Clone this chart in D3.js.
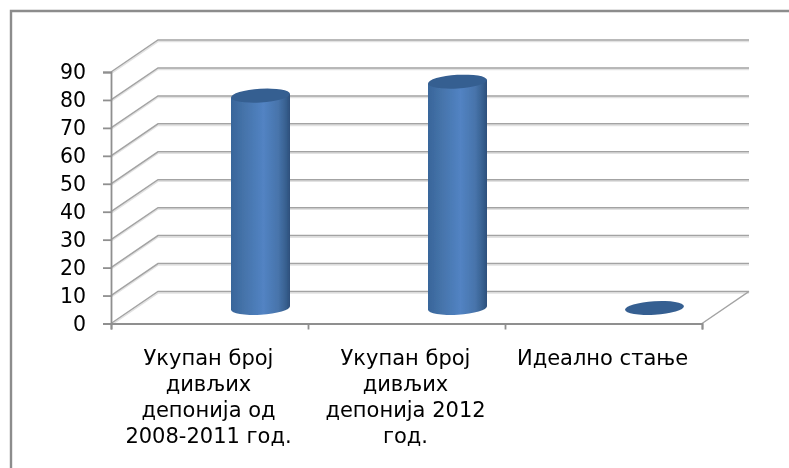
<!DOCTYPE html>
<html>
<head>
<meta charset="utf-8">
<style>
  html, body { margin: 0; padding: 0; background: #fff; }
  svg { display: block; }
  text { font-family: "DejaVu Sans", sans-serif; fill: #000; }
</style>
<script src="https://cdn.jsdelivr.net/npm/d3@7"></script>
</head>
<body>
<svg class="js-chart" width="789" height="468"></svg>
<script>
"use strict";

//data

const categories = ["cat1", "cat2", "cat3"];
const categoryLines = [
  ["Укупан број", "дивљих", "депонија од", "2008-2011 год."],
  ["Укупан број", "дивљих", "депонија 2012", "год."],
  ["Идеално стање"]
];
const values = [76, 81, 0];
const yTicks = [0, 10, 20, 30, 40, 50, 60, 70, 80, 90];

//layout

const depth = { x: 47, y: -32 };
const barShift = { x: 51, y: -15.5 };
const rx = 29.5;
const ry = 6.8;
const tilt = -3.5;
const lift = rx * Math.sin(-tilt * Math.PI / 180);

//scales

const x = d3.scaleBand().domain(categories).range([111, 702]);
const y = d3.scaleLinear().domain([0, 90]).range([323.5, 72]);

//render chart

const svg = d3.select(".js-chart");

const defs = svg.append("defs");

defs.append("filter")
  .attr("id", "soft")
  .attr("x", "-5%").attr("y", "-5%").attr("width", "110%").attr("height", "110%")
  .append("feGaussianBlur")
  .attr("stdDeviation", 0.45);

const grad = defs.append("linearGradient").attr("id", "barFill");

[
  [0, "#38659a"],
  [0.2, "#4472a8"],
  [0.55, "#5283c3"],
  [0.8, "#4874ab"],
  [0.93, "#37608f"],
  [1, "#2c4f7b"]
].forEach(([offset, color]) => {
  grad.append("stop").attr("offset", offset).attr("stop-color", color);
});

const frame = svg.append("g").attr("fill", "none").attr("stroke", "#8c8c8c").attr("stroke-width", 2.4);

frame.append("path").attr("d", "M789,11H11V468");

const chart = svg.append("g").attr("filter", "url(#soft)");

//grid

const addGrid = (offset, color, width) => {

  chart.append("g")
    .selectAll("path")
    .data(yTicks)
    .enter()
    .append("path")
    .attr("fill", "none")
    .attr("stroke", color)
    .attr("stroke-width", width)
    .attr("d", (d) => {
      const front = y(d) + offset;
      const [left, right] = x.range();
      return `M${left},${front}L${left + depth.x},${front + depth.y}H${right + depth.x}`;
    });

};

addGrid(1.6, "#e2e2e2", 1.4);
addGrid(0, "#a3a3a3", 1.5);

//floor edge on the right

chart.append("path")
  .attr("fill", "none")
  .attr("stroke", "#a3a3a3")
  .attr("stroke-width", 1.5)
  .attr("d", `M${x.range()[1]},${y(0)}l${depth.x},${depth.y}`);

//axes

const yAxis = d3.axisLeft(y)
  .tickValues(yTicks)
  .tickSize(8)
  .tickPadding(17);

const yGroup = chart.append("g")
  .attr("transform", `translate(${x.range()[0]}, 0)`)
  .call(yAxis);

yGroup.selectAll("text")
  .style("font-size", "20.5px")
  .attr("fill", "#000");

const edges = d3.scaleLinear().domain([0, categories.length]).range(x.range());

const xAxis = d3.axisBottom(edges)
  .tickValues(d3.range(categories.length + 1))
  .tickFormat("")
  .tickSize(6);

const xGroup = chart.append("g")
  .attr("transform", `translate(0, ${y(0)})`)
  .call(xAxis);

[yGroup, xGroup].forEach((g) => {
  g.selectAll("line").attr("stroke", "#8f8f8f").attr("stroke-width", 1.8);
  g.selectAll(".domain").attr("stroke", "#8f8f8f").attr("stroke-width", 1.8);
});

//cylinders

const bars = chart.append("g")
  .selectAll("g")
  .data(values)
  .enter()
  .append("g");

const center = (i) => x(categories[i]) + x.bandwidth() / 2 + barShift.x;
const level = (v) => y(v) + barShift.y;

bars.filter((d) => d > 0)
  .append("path")
  .attr("fill", "url(#barFill)")
  .attr("d", (d, i) => {
    const cx = center(i);
    const top = level(d);
    const base = level(0);
    return `M${cx - rx},${top + lift}L${cx - rx},${base + lift}`
      + `A${rx},${ry} ${tilt} 0 0 ${cx + rx},${base - lift}`
      + `L${cx + rx},${top - lift}Z`;
  });

bars.append("ellipse")
  .attr("fill", "#365f91")
  .attr("rx", rx)
  .attr("ry", ry)
  .attr("transform", (d, i) => `translate(${center(i)}, ${level(d)}) rotate(${tilt})`);

//category labels

const labels = chart.append("g")
  .selectAll("text")
  .data(categoryLines)
  .enter()
  .append("text")
  .attr("text-anchor", "middle")
  .style("font-size", "21px");

labels.selectAll("tspan")
  .data((d, i) => d.map((line) => ({ line, i })))
  .enter()
  .append("tspan")
  .attr("x", (d) => x(categories[d.i]) + x.bandwidth() / 2 - 1)
  .attr("y", (d, j) => 365 + j * 25.9)
  .text((d) => d.line);

</script>
</body>
</html>
